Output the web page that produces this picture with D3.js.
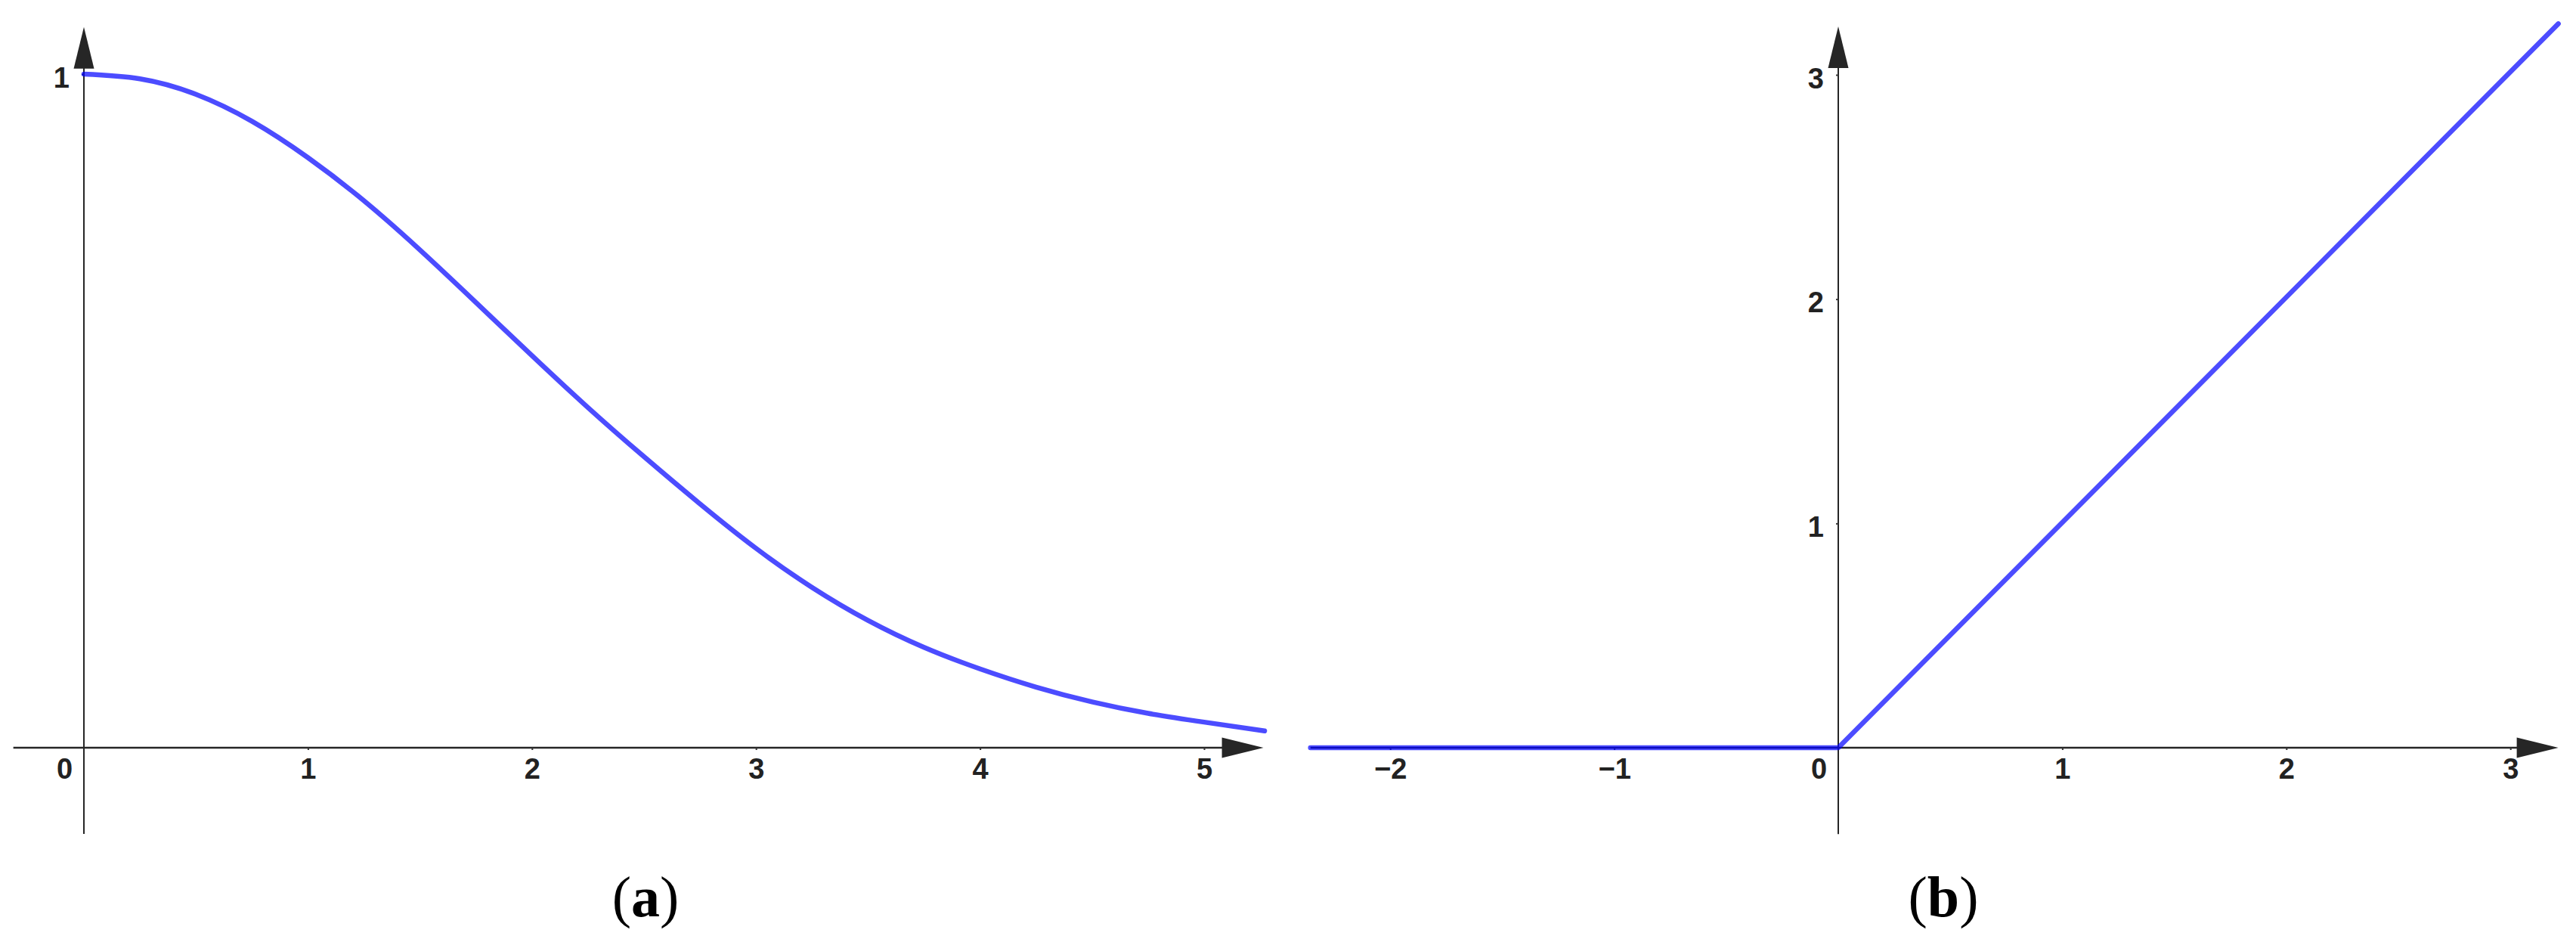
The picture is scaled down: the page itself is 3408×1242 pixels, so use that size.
<!DOCTYPE html>
<html>
<head>
<meta charset="utf-8">
<script src="https://cdn.jsdelivr.net/npm/d3@7"></script>
<style>
  body { margin: 0; background: #fff; }
  svg { display: block; }
  .tick text { font-family: "Liberation Sans", Arial, sans-serif; font-weight: bold; font-size: 38px; fill: #222; }
  .tick line { stroke: #333; stroke-width: 2; }
  .caption { font-family: "Liberation Serif", "Times New Roman", serif; font-size: 76px; fill: #000; }
</style>
</head>
<body>
<svg width="3408" height="1242"></svg>
<script>
// panel (a): decaying bump
var curveX = [0, 0.25, 0.5, 0.75, 1, 1.25, 1.5, 1.75, 2, 2.25, 2.5, 2.75, 3, 3.25, 3.5, 3.75, 4, 4.25, 4.5, 4.75, 5, 5.27];
var curveY = [1, 0.993, 0.97, 0.93, 0.876, 0.812, 0.739, 0.661, 0.582, 0.505, 0.432, 0.362, 0.296, 0.238, 0.189, 0.149, 0.117, 0.09, 0.068, 0.051, 0.038, 0.025];
var aXTicks = [0, 1, 2, 3, 4, 5];
var aYTicks = [1];
var aXExtent = [-0.315, 5.265];
var aYExtent = [-0.128, 1.07];

// panel (b): ramp
var rampX = [-2.356, 0, 3.214];
var rampY = [0, 0, 3.228];
var bXTicks = [-2, -1, 0, 1, 2, 3];
var bYTicks = [1, 2, 3];
var bXExtent = [-2.356, 3.214];
var bYExtent = [-0.385, 3.216];

var svg = d3.select("svg");
var axisColor = "#262626";
var lineColor = "blue";

function panel(opts) {
  var x = d3.scaleLinear().domain([0, opts.xUnit]).range([opts.x0, opts.x0 + opts.xUnit * 296.4]);
  var y = d3.scaleLinear().domain([0, opts.yUnit]).range([989, 989 - opts.yPx]);
  var g = svg.append("g");

  var pts = opts.xs.map(function(d, i) { return [d, opts.ys[i]]; });
  var line = d3.line()
      .x(function(d) { return x(d[0]); })
      .y(function(d) { return y(d[1]); })
      .curve(opts.smooth ? d3.curveNatural : d3.curveLinear);

  // axis lines with arrow heads
  var xTip = x(opts.xExt[1]), yTip = y(opts.yExt[1]);
  g.append("line")
      .attr("x1", x(opts.xExt[0])).attr("x2", xTip - 50)
      .attr("y1", y(0)).attr("y2", y(0))
      .attr("stroke", axisColor).attr("stroke-width", 2.4);
  g.append("path")
      .attr("d", "M" + xTip + "," + y(0) + "L" + (xTip - 55) + "," + (y(0) - 13.5) + "L" + (xTip - 55) + "," + (y(0) + 13.5) + "Z")
      .attr("fill", axisColor);
  g.append("line")
      .attr("x1", x(0)).attr("x2", x(0))
      .attr("y1", y(opts.yExt[0])).attr("y2", yTip + 50)
      .attr("stroke", axisColor).attr("stroke-width", 2);
  g.append("path")
      .attr("d", "M" + x(0) + "," + yTip + "L" + (x(0) - 13.5) + "," + (yTip + 55) + "L" + (x(0) + 13.5) + "," + (yTip + 55) + "Z")
      .attr("fill", axisColor);

  var xAxis = g.append("g")
      .attr("transform", "translate(0," + y(0) + ")")
      .call(d3.axisBottom(x).tickValues(opts.xTicks).tickSize(3).tickPadding(11)
        .tickFormat(function(d) { return d < 0 ? "\u2212" + Math.abs(d) : d; }));
  xAxis.select(".domain").remove();
  xAxis.selectAll(".tick").filter(function(d) { return d === 0; })
      .select("text").attr("dx", -26);
  xAxis.selectAll(".tick").filter(function(d) { return d === 0; })
      .select("line").remove();

  var yAxis = g.append("g")
      .attr("transform", "translate(" + x(0) + ",0)")
      .call(d3.axisLeft(y).tickValues(opts.yTicks).tickSize(3).tickPadding(16)
        .tickFormat(d3.format("d")));
  yAxis.select(".domain").remove();
  yAxis.selectAll(".tick text").attr("dy", "0.45em");

  g.append("path")
      .datum(pts)
      .attr("d", line)
      .attr("fill", "none")
      .attr("stroke", lineColor)
      .attr("stroke-opacity", 0.7)
      .attr("stroke-width", 6.5)
      .attr("stroke-linecap", "round")
      .attr("stroke-linejoin", "round");

  var cap = svg.append("text")
      .attr("class", "caption")
      .attr("x", opts.capX).attr("y", 1212)
      .attr("text-anchor", "middle");
  cap.append("tspan").text("(");
  cap.append("tspan").attr("font-weight", "bold").text(opts.label);
  cap.append("tspan").text(")");
}

panel({
  x0: 111, xUnit: 5, yUnit: 1, yPx: 891,
  xs: curveX, ys: curveY, smooth: true,
  xTicks: aXTicks, yTicks: aYTicks, xExt: aXExtent, yExt: aYExtent,
  capX: 854, label: "a"
});

panel({
  x0: 2432, xUnit: 3, yUnit: 3, yPx: 890,
  xs: rampX, ys: rampY, smooth: false,
  xTicks: bXTicks, yTicks: bYTicks, xExt: bXExtent, yExt: bYExtent,
  capX: 2571, label: "b"
});
</script>
</body>
</html>
